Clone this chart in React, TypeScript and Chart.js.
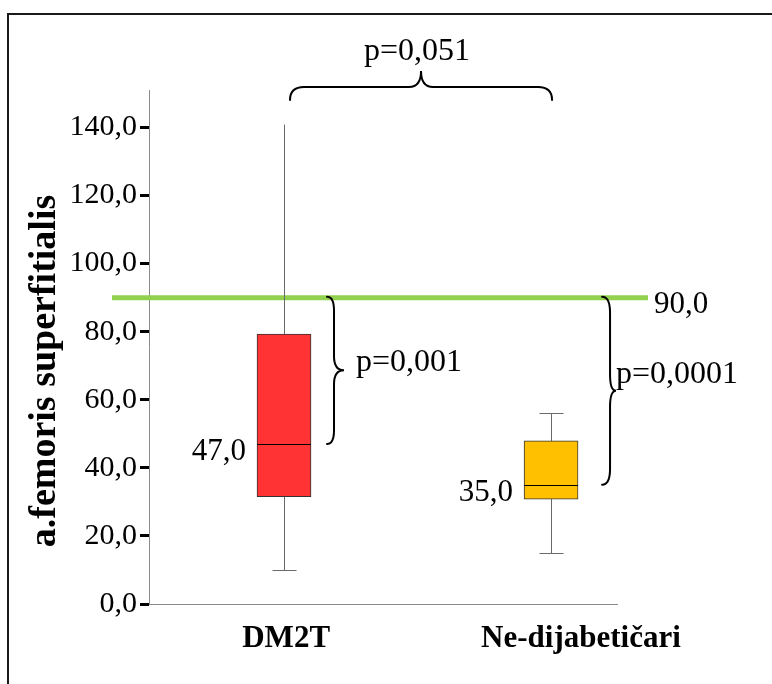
import { useEffect, useRef } from "react";
import { Chart, registerables } from "chart.js";

Chart.register(...registerables);

const categories = ["DM2T", "Ne-dijabetičari"];
const whiskerLow = [10, 15];
const q1 = [31.5, 30.8];
const median = [47, 35];
const q3 = [79.3, 47.9];
const whiskerHigh = [141, 56];
const medianLabels = ["47,0", "35,0"];
const boxColors = ["#FF3333", "#FFC000"];
const yTicks = [0, 20, 40, 60, 80, 100, 120, 140];
const referenceValue = 90;
const referenceLabel = "90,0";
const pBetweenGroups = "p=0,051";
const pVsReference = ["p=0,001", "p=0,0001"];
const yTitle = "a.femoris superfitialis";

const SERIF = "'Liberation Serif', 'Times New Roman', serif";

function drawVerticalBrace(
  ctx: CanvasRenderingContext2D,
  x0: number,
  yTop: number,
  yBot: number,
  dv: number,
  dp: number,
  r: number
) {
  const xv = x0 + dv;
  const xp = x0 + dp;
  const yMid = (yTop + yBot) / 2;
  ctx.beginPath();
  ctx.moveTo(x0, yTop);
  ctx.quadraticCurveTo(xv, yTop, xv, yTop + r);
  ctx.lineTo(xv, yMid - r);
  ctx.quadraticCurveTo(xv, yMid, xp, yMid);
  ctx.quadraticCurveTo(xv, yMid, xv, yMid + r);
  ctx.lineTo(xv, yBot - r);
  ctx.quadraticCurveTo(xv, yBot, x0, yBot);
  ctx.stroke();
  return { xp, yMid };
}

const annotations = {
  id: "annotations",
  beforeDatasetsDraw(chart: any) {
    const { ctx, chartArea } = chart;
    const x = chart.scales.x;
    const y = chart.scales.y;
    ctx.save();
    // reference line
    const yRef = y.getPixelForValue(referenceValue);
    ctx.strokeStyle = "#92D050";
    ctx.lineWidth = 5;
    ctx.beginPath();
    ctx.moveTo(chartArea.left - 37, yRef);
    ctx.lineTo(chartArea.right + 31, yRef);
    ctx.stroke();
    // whiskers
    ctx.strokeStyle = "#6a6a6a";
    ctx.lineWidth = 1;
    categories.forEach((_, i) => {
      const cx = Math.round(x.getPixelForValue(i)) + 0.5;
      const yHi = Math.round(y.getPixelForValue(whiskerHigh[i])) + 0.5;
      const yLo = Math.round(y.getPixelForValue(whiskerLow[i])) + 0.5;
      ctx.beginPath();
      ctx.moveTo(cx, yHi);
      ctx.lineTo(cx, yLo);
      ctx.moveTo(cx - 12, yLo);
      ctx.lineTo(cx + 12, yLo);
      if (i === 1) {
        ctx.moveTo(cx - 12, yHi);
        ctx.lineTo(cx + 12, yHi);
      }
      ctx.stroke();
    });
    ctx.restore();
  },
  afterDatasetsDraw(chart: any) {
    const { ctx, chartArea } = chart;
    const x = chart.scales.x;
    const y = chart.scales.y;
    ctx.save();
    // medians
    ctx.strokeStyle = "#000";
    ctx.lineWidth = 1;
    categories.forEach((_, i) => {
      const cx = x.getPixelForValue(i);
      const ym = Math.round(y.getPixelForValue(median[i])) + 0.5;
      ctx.beginPath();
      ctx.moveTo(cx - 27, ym);
      ctx.lineTo(cx + 27, ym);
      ctx.stroke();
    });
    // median labels
    ctx.fillStyle = "#000";
    ctx.font = `31px ${SERIF}`;
    ctx.textAlign = "right";
    ctx.textBaseline = "alphabetic";
    categories.forEach((_, i) => {
      const cx = x.getPixelForValue(i);
      const ym = y.getPixelForValue(median[i]);
      ctx.fillText(medianLabels[i], cx - 38, ym + 16);
    });
    // reference label
    const yRef = y.getPixelForValue(referenceValue);
    ctx.textAlign = "left";
    ctx.fillText(referenceLabel, chartArea.right + 37, yRef + 15);

    // braces
    ctx.font = `32px ${SERIF}`;
    ctx.strokeStyle = "#000";
    ctx.lineWidth = 2;
    ctx.lineCap = "round";
    const b1 = drawVerticalBrace(
      ctx,
      x.getPixelForValue(0) + 43,
      yRef - 1,
      y.getPixelForValue(median[0]),
      7,
      17,
      14
    );
    ctx.fillText(pVsReference[0], b1.xp + 12, b1.yMid + 1);
    const b2 = drawVerticalBrace(
      ctx,
      x.getPixelForValue(1) + 51,
      yRef - 1,
      y.getPixelForValue(median[1]),
      8,
      14,
      16
    );
    ctx.fillText(pVsReference[1], b2.xp, b2.yMid - 8);

    // top brace
    const x1 = x.getPixelForValue(0) + 6;
    const x2 = x.getPixelForValue(1) + 1;
    const xm = (x1 + x2) / 2;
    const yTip = chartArea.top + 10;
    const yH = chartArea.top - 3;
    const yApex = chartArea.top - 19;
    const r = 14;
    ctx.beginPath();
    ctx.moveTo(x1, yTip);
    ctx.quadraticCurveTo(x1, yH, x1 + r, yH);
    ctx.lineTo(xm - 12, yH);
    ctx.quadraticCurveTo(xm, yH, xm, yApex);
    ctx.quadraticCurveTo(xm, yH, xm + 12, yH);
    ctx.lineTo(x2 - r, yH);
    ctx.quadraticCurveTo(x2, yH, x2, yTip);
    ctx.stroke();
    ctx.textAlign = "center";
    ctx.fillText(pBetweenGroups, xm - 4, yApex - 11);

    // y axis title
    ctx.translate(45, 371);
    ctx.rotate(-Math.PI / 2);
    ctx.font = `bold 38px ${SERIF}`;
    ctx.textAlign = "center";
    ctx.textBaseline = "middle";
    ctx.fillText(yTitle, 0, 0);
    ctx.restore();
  },
};

export default function App() {
  const canvasRef = useRef<HTMLCanvasElement | null>(null);

  useEffect(() => {
    const canvas = canvasRef.current;
    if (!canvas) return;
    const chart = new Chart(canvas, {
      type: "bar",
      data: {
        datasets: [
          {
            data: categories.map((_, i) => ({ x: i, y: [q1[i], q3[i]] })) as any,
            backgroundColor: boxColors,
            borderColor: "#333",
            borderWidth: 1,
            borderSkipped: false,
            barThickness: 54,
          },
        ],
      },
      options: {
        animation: false,
        responsive: false,
        maintainAspectRatio: false,
        layout: { padding: { top: 90, right: 155, left: 0, bottom: 0 } },
        plugins: {
          legend: { display: false },
          tooltip: { enabled: false },
        },
        scales: {
          x: {
            type: "linear",
            offset: false,
            min: -0.5056,
            max: 1.247,
            grid: { display: false, drawTicks: false, offset: false },
            border: { color: "#8a8a8a", width: 1 },
            afterBuildTicks: (s: any) => {
              s.ticks = [{ value: 0.008 }, { value: 1.112 }];
            },
            afterFit: (s: any) => {
              s.height = 80;
            },
            ticks: {
              autoSkip: false,
              maxRotation: 0,
              padding: 16,
              color: "#000",
              font: { family: SERIF, size: 31, weight: "bold" },
              callback: (_v: any, i: number) => categories[i],
            },
          },
          y: {
            type: "linear",
            min: 0,
            max: 151,
            afterBuildTicks: (s: any) => {
              s.ticks = yTicks.map((v) => ({ value: v }));
            },
            afterFit: (s: any) => {
              s.width = 149;
            },
            grid: {
              drawOnChartArea: false,
              drawTicks: true,
              tickLength: 9,
              tickWidth: 3,
              tickColor: "#000",
            },
            border: { color: "#8a8a8a", width: 1 },
            ticks: {
              padding: 3,
              color: "#000",
              font: { family: SERIF, size: 30 },
              callback: (v: any) => Number(v).toFixed(1).replace(".", ","),
            },
          },
        },
      },
      plugins: [annotations],
    });
    return () => chart.destroy();
  }, []);

  return (
    <div
      style={{
        position: "absolute",
        left: 0,
        top: 0,
        width: 772,
        height: 684,
        overflow: "hidden",
        background: "#fff",
      }}
    >
      <div
        style={{
          position: "absolute",
          left: 7,
          top: 13,
          width: 900,
          height: 900,
          borderLeft: "2px solid #1a1a1a",
          borderTop: "2px solid #1a1a1a",
        }}
      />
      <canvas
        ref={canvasRef}
        width={772}
        height={684}
        style={{ position: "absolute", left: 0, top: 0, width: 772, height: 684 }}
      />
    </div>
  );
}
